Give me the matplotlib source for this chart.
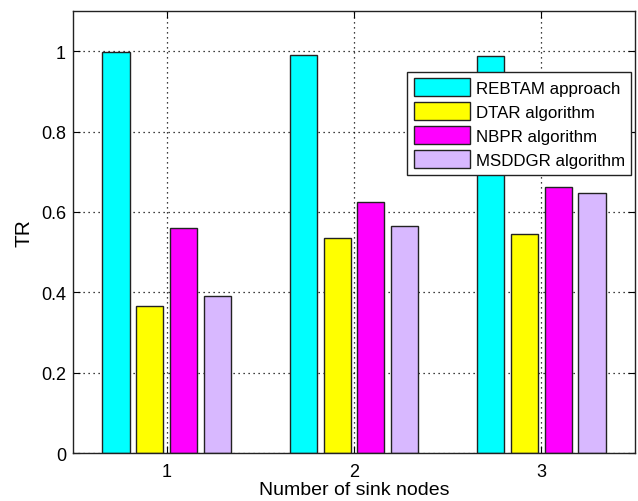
import numpy as np
import matplotlib.pyplot as plt

plt.rcParams['font.family'] = ['Liberation Sans', 'DejaVu Sans']

sink_nodes = [1, 2, 3]
series_names = ['REBTAM approach', 'DTAR algorithm', 'NBPR algorithm', 'MSDDGR algorithm']
rebtam = [0.997, 0.990, 0.987]
dtar = [0.365, 0.534, 0.546]
nbpr = [0.559, 0.624, 0.662]
msddgr = [0.390, 0.565, 0.647]
colors = ['#00FFFF', '#FFFF00', '#FF00FF', '#D8B8FF']


def plot_figure(output_file):
    fig = plt.figure(figsize=(6.38, 5.02), dpi=100)
    ax = fig.add_axes([0.1144, 0.0956, 0.881, 0.8805])

    x = np.array(sink_nodes, dtype=float)
    offsets = [-0.27, -0.09, 0.09, 0.27]
    for vals, off, col, name in zip([rebtam, dtar, nbpr, msddgr], offsets, colors, series_names):
        ax.bar(x + off, vals, width=0.145, color=col, edgecolor='#222222',
               linewidth=1.0, label=name, zorder=2)

    ax.set_xlim(0.5, 3.5)
    ax.set_ylim(0, 1.1)
    ax.set_xticks(sink_nodes)
    ax.set_yticks([0, 0.2, 0.4, 0.6, 0.8, 1])
    ax.set_yticklabels(['0', '0.2', '0.4', '0.6', '0.8', '1'])
    ax.grid(True, linestyle=(0, (1, 3)), color='black', linewidth=0.9, zorder=1)
    ax.set_axisbelow(True)
    ax.tick_params(direction='in', top=True, right=True, length=5, labelsize=13)
    ax.tick_params(axis='y', pad=5)
    ax.tick_params(axis='x', pad=7)
    for s in ax.spines.values():
        s.set_linewidth(1.0)
        s.set_color('#222222')

    ax.set_xlabel('Number of sink nodes', fontsize=14, labelpad=1)
    ax.set_ylabel('TR', fontsize=15, labelpad=5)

    leg = ax.legend(loc='upper right', bbox_to_anchor=(0.9935, 0.863), fontsize=12.2,
                    fancybox=False, framealpha=1, edgecolor='#222222',
                    handlelength=3.3, handleheight=1.25, handletextpad=0.35,
                    labelspacing=0.36, borderpad=0.4, borderaxespad=0)
    leg.get_frame().set_linewidth(1.0)

    plt.savefig(output_file)
    plt.close()


if __name__ == "__main__":
    plot_figure('out.png')
